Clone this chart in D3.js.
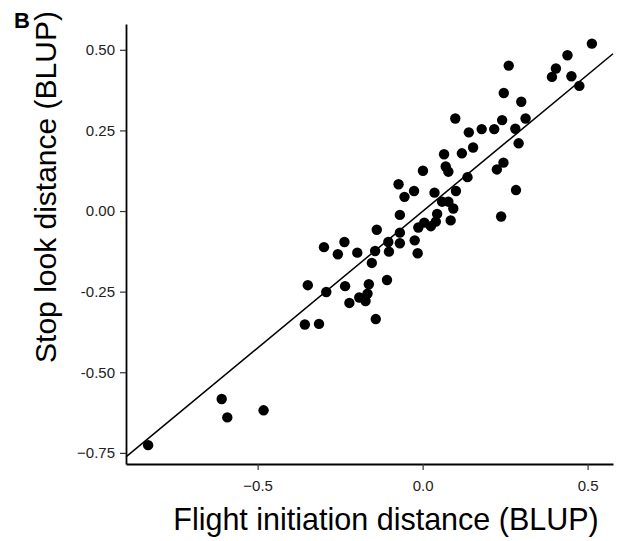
<!DOCTYPE html>
<html>
<head>
<meta charset="utf-8">
<script src="https://cdn.jsdelivr.net/npm/d3@7"></script>
<style>
  body { margin: 0; background: #fff; }
  svg { font-family: "Liberation Sans", Arial, sans-serif; }
</style>
</head>
<body>
<div id="chart"></div>
<script>
// Flight initiation distance (BLUP), x values
let fidBlup = [
  -0.832, -0.609, -0.592, -0.482, 0.513, 0.439, 0.261, 0.404, 0.392, 0.451,
  0.475, 0.246, 0.299, 0.099, 0.241, 0.312, 0.140, 0.179, 0.217, 0.281,
  0.153, 0.291, 0.065, 0.119, 0.070, 0.078, 0.001, 0.245, 0.225, 0.136,
  -0.073, -0.055, -0.026, 0.036, 0.101, 0.283, 0.059, 0.078, 0.093, -0.069,
  0.044, 0.040, 0.025, 0.005, -0.013, 0.085, 0.238, -0.139, -0.069, -0.104,
  -0.069, -0.024, -0.015, -0.144, -0.102, -0.154, -0.198, -0.108, -0.163, -0.167,
  -0.173, -0.192, -0.222, -0.235, -0.292, -0.348, -0.299, -0.237, -0.257, -0.357,
  -0.314, -0.142
];

// Stop look distance (BLUP), y values
let sldBlup = [
  -0.726, -0.583, -0.640, -0.618, 0.519, 0.483, 0.451, 0.442, 0.416, 0.418,
  0.388, 0.366, 0.339, 0.287, 0.282, 0.287, 0.244, 0.254, 0.254, 0.255,
  0.197, 0.210, 0.176, 0.179, 0.138, 0.122, 0.125, 0.150, 0.129, 0.105,
  0.083, 0.044, 0.062, 0.057, 0.062, 0.065, 0.029, 0.029, 0.008, -0.012,
  -0.009, -0.033, -0.047, -0.036, -0.051, -0.029, -0.017, -0.058, -0.067, -0.096,
  -0.100, -0.091, -0.131, -0.124, -0.126, -0.161, -0.129, -0.214, -0.227, -0.256,
  -0.279, -0.268, -0.285, -0.233, -0.251, -0.230, -0.112, -0.096, -0.134, -0.352,
  -0.350, -0.335
];

// fitted line
let fitIntercept = -0.001;
let fitSlope = 0.847;

// ticks
let xTicks = [-0.5, 0, 0.5];
let xTickLabels = ["\u22120.5", "0.0", "0.5"];
let yTicks = [0.5, 0.25, 0, -0.25, -0.5, -0.75];
let yTickLabels = ["0.50", "0.25", "0.00", "-0.25", "-0.50", "\u22120.75"];

let svgWidth = 619;
let svgHeight = 541;

let margin = { top: 24, right: 6, bottom: 77, left: 126 };
let width = svgWidth - margin.left - margin.right;
let height = svgHeight - margin.top - margin.bottom;

let svg = d3.select("#chart")
    .append("svg")
    .attr("width", svgWidth)
    .attr("height", svgHeight);

let chartGroup = svg.append("g")
    .attr("transform", `translate(${margin.left}, ${margin.top})`);

let xScale = d3.scaleLinear()
    .domain([-0.899, 0.577])
    .range([0, width]);

let yScale = d3.scaleLinear()
    .domain([-0.7845, 0.580])
    .range([height, 0]);

let points = fidBlup.map((x, i) => ({ x: x, y: sldBlup[i] }));

// points
chartGroup.selectAll("circle")
    .data(points)
    .enter()
    .append("circle")
    .attr("cx", d => xScale(d.x))
    .attr("cy", d => yScale(d.y))
    .attr("r", 5.2)
    .attr("fill", "black");

// regression line across the whole panel
let xd = xScale.domain();
chartGroup.append("line")
    .attr("x1", xScale(xd[0]))
    .attr("y1", yScale(fitIntercept + fitSlope * xd[0]))
    .attr("x2", xScale(xd[1]))
    .attr("y2", yScale(fitIntercept + fitSlope * xd[1]))
    .attr("stroke", "black")
    .attr("stroke-width", 1.5);

// axes
let bottomAxis = d3.axisBottom(xScale)
    .tickValues(xTicks)
    .tickFormat((d, i) => xTickLabels[i])
    .tickSizeInner(6)
    .tickSizeOuter(0)
    .tickPadding(10);

let leftAxis = d3.axisLeft(yScale)
    .tickValues(yTicks)
    .tickFormat((d, i) => yTickLabels[i])
    .tickSizeInner(6)
    .tickSizeOuter(0)
    .tickPadding(5);

let xAxis = chartGroup.append("g")
    .attr("transform", `translate(0, ${height})`)
    .call(bottomAxis);

let yAxis = chartGroup.append("g")
    .call(leftAxis);

[xAxis, yAxis].forEach(function(ax) {
    ax.select(".domain").attr("stroke", "black").attr("stroke-width", 1.8);
    ax.selectAll(".tick line").attr("stroke", "#333").attr("stroke-width", 1.2);
    ax.selectAll(".tick text")
        .attr("fill", "#222")
        .style("font-size", "15px")
        .style("font-family", "Liberation Sans, Arial, sans-serif");
});

// axis titles
svg.append("text")
    .attr("x", 386)
    .attr("y", 530)
    .attr("text-anchor", "middle")
    .style("font-size", "30.5px")
    .text("Flight initiation distance (BLUP)");

svg.append("text")
    .attr("transform", "rotate(-90)")
    .attr("x", -187)
    .attr("y", 56)
    .attr("text-anchor", "middle")
    .style("font-size", "30px")
    .text("Stop look distance (BLUP)");

// panel tag
svg.append("text")
    .attr("x", 14)
    .attr("y", 28)
    .style("font-size", "22px")
    .style("font-weight", "bold")
    .text("B");
</script>
</body>
</html>
